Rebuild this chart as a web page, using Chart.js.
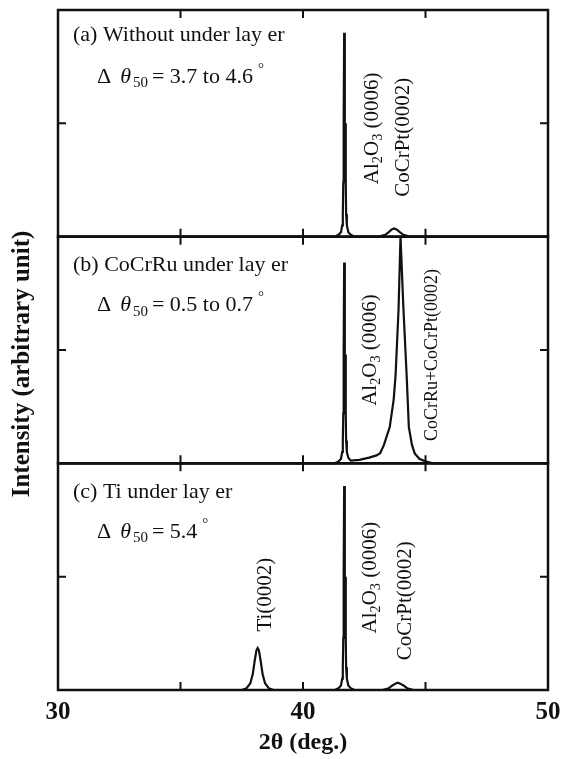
<!DOCTYPE html>
<html><head><meta charset="utf-8">
<script src="https://cdn.jsdelivr.net/npm/chart.js@4"></script>
<style>html,body{margin:0;padding:0;background:#fff}canvas{display:block}</style>
</head><body>
<div style="width:561px;height:759px;position:relative"><canvas id="c" width="561" height="759"></canvas></div>
<script>
// ---- data ----
const xTickLabels = [30, 40, 50];
const xMinorTicks = [35, 40, 45];

const panelA_x = [30, 41.30, 41.45, 41.55, 41.60, 41.625, 41.645, 41.66, 41.68, 41.70, 41.712, 41.725, 41.745, 41.76, 41.79, 41.85, 41.95, 42.1, 43.1, 43.35, 43.5, 43.62, 43.72, 43.82, 43.95, 44.1, 44.35, 50];
const panelA_y = [0, 0, 0.008, 0.02, 0.05, 0.10, 0.24, 0.50, 0.90, 0.50, 0.30, 0.50, 0.24, 0.10, 0.05, 0.02, 0.008, 0, 0, 0.008, 0.02, 0.032, 0.036, 0.032, 0.02, 0.008, 0, 0];

const panelB_x = [30, 41.30, 41.45, 41.55, 41.60, 41.625, 41.645, 41.66, 41.68, 41.70, 41.712, 41.725, 41.745, 41.76, 41.79, 41.85, 41.95, 42.3, 42.7, 43.0, 43.15, 43.3, 43.54, 43.7, 43.78, 43.9, 43.98, 44.1, 44.23, 44.32, 44.45, 44.56, 44.75, 44.95, 45.3, 50];
const panelB_y = [0, 0, 0.008, 0.02, 0.05, 0.10, 0.22, 0.49, 0.886, 0.49, 0.30, 0.48, 0.22, 0.10, 0.05, 0.025, 0.012, 0.015, 0.025, 0.035, 0.045, 0.08, 0.16, 0.28, 0.39, 0.68, 1.0, 0.68, 0.39, 0.16, 0.08, 0.044, 0.02, 0.01, 0, 0];

const panelC_x = [30, 37.5, 37.7, 37.85, 37.95, 38.03, 38.1, 38.15, 38.2, 38.27, 38.35, 38.45, 38.6, 38.8, 41.30, 41.45, 41.55, 41.60, 41.625, 41.645, 41.66, 41.68, 41.70, 41.712, 41.725, 41.745, 41.76, 41.79, 41.85, 41.95, 42.1, 43.25, 43.5, 43.65, 43.77, 43.87, 43.97, 44.1, 44.25, 44.5, 50];
const panelC_y = [0, 0, 0.008, 0.03, 0.07, 0.13, 0.175, 0.185, 0.175, 0.13, 0.07, 0.03, 0.008, 0, 0, 0.008, 0.02, 0.05, 0.10, 0.23, 0.51, 0.90, 0.51, 0.31, 0.50, 0.23, 0.10, 0.05, 0.02, 0.008, 0, 0, 0.008, 0.02, 0.028, 0.032, 0.028, 0.02, 0.008, 0, 0];

const panelTitles = ['(a) Without under lay er', '(b) CoCrRu under lay er', '(c) Ti under lay er'];
const deltaValues = ['3.7 to 4.6', '0.5 to 0.7', '5.4'];
// ------------------------------------

const SERIF = "'Liberation Serif', 'Times New Roman', serif";
const pts = (xs, ys) => xs.map((x, i) => ({x, y: ys[i]}));

function runFont(r, size) {
  const s = r.sz || (r.sub || r.sup ? size * 0.68 : size);
  return (r.it ? 'italic ' : '') + (r.b ? 'bold ' : '') + s + 'px ' + SERIF;
}
function drawRuns(ctx, runs, x, y, size) {
  let cx = x;
  for (const r of runs) {
    ctx.font = runFont(r, size);
    let dy = 0;
    if (r.sub) dy = size * 0.28;
    if (r.sup) dy = -size * 0.38;
    ctx.fillText(r.t, cx, y + dy);
    cx += ctx.measureText(r.t).width + (r.gap || 0);
  }
  return cx - x;
}
function runsWidth(ctx, runs, size) {
  let w = 0;
  for (const r of runs) {
    ctx.font = runFont(r, size);
    w += ctx.measureText(r.t).width + (r.gap || 0);
  }
  return w;
}
function rotLabel(ctx, runs, cx, cy, size) {
  ctx.save();
  ctx.translate(cx, cy);
  ctx.rotate(-Math.PI / 2);
  const w = runsWidth(ctx, runs, size);
  drawRuns(ctx, runs, -w / 2, 0, size);
  ctx.restore();
}

const al2o3 = [{t: 'Al'}, {t: '2', sub: true}, {t: 'O'}, {t: '3', sub: true}, {t: ' (0006)'}];

const framePlugin = {
  id: 'frame',
  afterDatasetsDraw(chart) {
    const ctx = chart.ctx;
    const x = chart.scales.x;
    const panels = [chart.scales.ya, chart.scales.yb, chart.scales.yc];
    ctx.save();
    ctx.strokeStyle = '#111';
    const L = x.getPixelForValue(30), R = x.getPixelForValue(50);
    panels.forEach(s => {
      const T = s.getPixelForValue(1), B = s.getPixelForValue(0);
      ctx.lineWidth = 2.5;
      ctx.strokeRect(L, T, R - L, B - T);
      ctx.lineWidth = 2;
      ctx.beginPath();
      xMinorTicks.forEach(v => {
        const px = x.getPixelForValue(v);
        ctx.moveTo(px, T); ctx.lineTo(px, T + 8);
        ctx.moveTo(px, B); ctx.lineTo(px, B - 8);
      });
      const my = s.getPixelForValue(0.5);
      ctx.moveTo(L, my); ctx.lineTo(L + 8, my);
      ctx.moveTo(R, my); ctx.lineTo(R - 8, my);
      ctx.stroke();
    });

    ctx.fillStyle = '#111';
    ctx.textBaseline = 'middle';
    ctx.textAlign = 'left';
    const sz = 22;
    panels.forEach((s, i) => {
      const T = s.getPixelForValue(1);
      drawRuns(ctx, [{t: panelTitles[i]}], 73, T + (i === 0 ? 25 : 29), sz);
      drawRuns(ctx, [
        {t: 'Δ', gap: 9},
        {t: 'θ', it: true, gap: 2},
        {t: '50', sub: true, gap: 4},
        {t: '= ' + deltaValues[i], gap: 5},
        {t: '°', sup: true}
      ], 97, T + (i === 0 ? 67 : 69), sz);
    });

    const A = panels[0].getPixelForValue(0.5), Bm = panels[1].getPixelForValue(0.5), Cm = panels[2].getPixelForValue(0.5);
    rotLabel(ctx, al2o3, 372, A + 5, 21);
    rotLabel(ctx, [{t: 'CoCrPt(0002)'}], 403, A + 14, 21);
    rotLabel(ctx, al2o3, 370, Bm, 21);
    rotLabel(ctx, [{t: 'CoCrRu+CoCrPt(0002)'}], 432, Bm + 5, 18);
    rotLabel(ctx, [{t: 'Ti(0002)'}], 265, Cm + 18, 21);
    rotLabel(ctx, al2o3, 370, Cm + 1, 21);
    rotLabel(ctx, [{t: 'CoCrPt(0002)'}], 405, Cm + 24, 21);

    ctx.save();
    ctx.translate(23, 364);
    ctx.rotate(-Math.PI / 2);
    ctx.textAlign = 'center';
    ctx.font = 'bold 25px ' + SERIF;
    ctx.fillText('Intensity (arbitrary unit)', 0, 0);
    ctx.restore();
    ctx.restore();
  }
};

const lineDs = (data, axis) => ({
  data, yAxisID: axis, showLine: true, pointRadius: 0, borderColor: '#111',
  borderWidth: 2.2, tension: 0, fill: false, clip: false
});

const yScale = (w) => ({type: 'linear', position: 'left', stack: 'p', stackWeight: 1, weight: w, min: 0, max: 1, display: false});

new Chart(document.getElementById('c'), {
  type: 'scatter',
  data: {datasets: [lineDs(pts(panelA_x, panelA_y), 'ya'), lineDs(pts(panelB_x, panelB_y), 'yb'), lineDs(pts(panelC_x, panelC_y), 'yc')]},
  options: {
    responsive: false, animation: false, devicePixelRatio: 1,
    layout: {padding: {left: 58, right: 13, top: 10, bottom: 0}},
    plugins: {legend: {display: false}, tooltip: {enabled: false}},
    scales: {
      x: {
        type: 'linear', min: 30, max: 50, position: 'bottom',
        afterBuildTicks: s => { s.ticks = xTickLabels.map(v => ({value: v})); },
        afterFit: s => { s.height = 69; s.paddingLeft = 0; s.paddingRight = 0; },
        ticks: {font: {family: SERIF, size: 25, weight: 'bold'}, color: '#111', padding: 8, maxRotation: 0},
        grid: {display: false, drawTicks: false},
        border: {display: false},
        title: {display: true, text: '2θ (deg.)', font: {family: SERIF, size: 24, weight: 'bold'}, color: '#111', padding: {top: 0, bottom: 2}}
      },
      ya: yScale(3),
      yb: yScale(2),
      yc: yScale(1)
    }
  },
  plugins: [framePlugin]
});
</script>
</body></html>
